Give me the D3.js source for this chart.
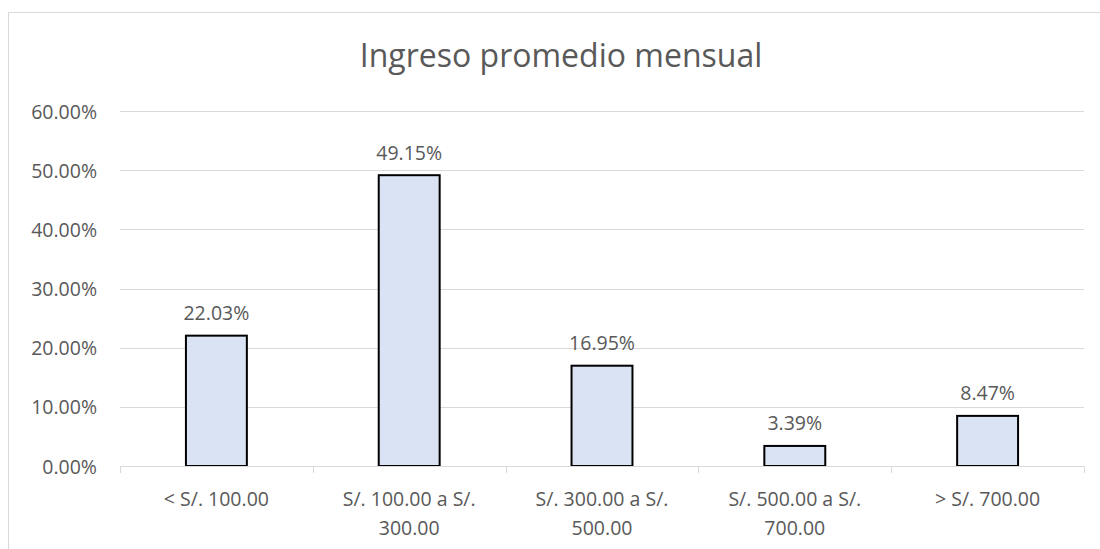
<!DOCTYPE html>
<html>
<head>
<meta charset="utf-8">
<script src="https://cdn.jsdelivr.net/npm/d3@7"></script>
<style>
  body { margin: 0; background: #ffffff; }
  text { font-family: "Open Sans", "Noto Sans", sans-serif; fill: #595959; }
</style>
</head>
<body>
<div id="canvas"></div>
<script>
"use strict"

/* data */
let categories = ["< S/. 100.00", "S/. 100.00 a S/. 300.00", "S/. 300.00 a S/. 500.00", "S/. 500.00 a S/. 700.00", "> S/. 700.00"];
let values = [22.03, 49.15, 16.95, 3.39, 8.47];
let yTicks = [0, 10, 20, 30, 40, 50, 60];
let chartTitle = "Ingreso promedio mensual";

/* drawing sizes */
let svgWidth = 1100;
let svgHeight = 549;
let plot = {left: 120, right: 1084, top: 111, bottom: 466};
let labelSize = "19.5px";

let svg = d3.select("#canvas")
    .append("svg")
    .attr("width", svgWidth)
    .attr("height", svgHeight);

/* outer chart border (runs off the right and bottom edge) */
svg.append("rect")
    .attr("x", 8.5)
    .attr("y", 12.5)
    .attr("width", 1200)
    .attr("height", 600)
    .attr("fill", "white")
    .attr("stroke", "#d9d9d9");

let xScale = d3.scaleBand()
    .domain(categories)
    .range([plot.left, plot.right])
    .paddingInner(0.684)
    .paddingOuter(0.342);

let yScale = d3.scaleLinear()
    .domain([0, 60])
    .range([plot.bottom, plot.top]);

/* gridlines */
svg.selectAll("line.grid")
    .data(yTicks.filter(d => d > 0))
    .join("line")
    .attr("class", "grid")
    .attr("x1", plot.left)
    .attr("x2", plot.right)
    .attr("y1", d => Math.round(yScale(d)) + 0.5)
    .attr("y2", d => Math.round(yScale(d)) + 0.5)
    .attr("stroke", "#d9d9d9")
    .attr("stroke-width", 1);

/* y tick labels */
svg.selectAll("text.ylab")
    .data(yTicks)
    .join("text")
    .attr("class", "ylab")
    .attr("x", 97)
    .attr("y", d => yScale(d))
    .attr("text-anchor", "end")
    .attr("dominant-baseline", "central")
    .attr("font-size", labelSize)
    .text(d => d.toFixed(2) + "%");

/* bars */
svg.selectAll("rect.bar")
    .data(values)
    .join("rect")
    .attr("class", "bar")
    .attr("x", (d, i) => xScale(categories[i]))
    .attr("y", d => yScale(d))
    .attr("width", xScale.bandwidth())
    .attr("height", d => plot.bottom - yScale(d))
    .attr("fill", "#dae3f3")
    .attr("stroke", "black")
    .attr("stroke-width", 2);

/* x axis line and ticks */
let boundaries = d3.range(categories.length + 1).map(i => plot.left + i * xScale.step());
svg.append("line")
    .attr("x1", plot.left)
    .attr("x2", plot.right)
    .attr("y1", plot.bottom + 0.5)
    .attr("y2", plot.bottom + 0.5)
    .attr("stroke", "#d9d9d9");
svg.selectAll("line.tick")
    .data(boundaries)
    .join("line")
    .attr("class", "tick")
    .attr("x1", d => Math.round(d) + 0.5)
    .attr("x2", d => Math.round(d) + 0.5)
    .attr("y1", plot.bottom)
    .attr("y2", plot.bottom + 7)
    .attr("stroke", "#d9d9d9");

/* value labels */
svg.selectAll("text.vlab")
    .data(values)
    .join("text")
    .attr("class", "vlab")
    .attr("x", (d, i) => xScale(categories[i]) + xScale.bandwidth() / 2)
    .attr("y", d => yScale(d) - 23)
    .attr("text-anchor", "middle")
    .attr("dominant-baseline", "central")
    .attr("font-size", labelSize)
    .text(d => d.toFixed(2) + "%");

/* category labels, wrapped like the original */
let catLabels = svg.selectAll("text.xlab")
    .data(categories)
    .join("text")
    .attr("class", "xlab")
    .attr("x", d => xScale(d) + xScale.bandwidth() / 2)
    .attr("y", 498)
    .attr("text-anchor", "middle")
    .attr("dominant-baseline", "central")
    .attr("font-size", labelSize);

catLabels.each(function (d) {
    let el = d3.select(this);
    let x = el.attr("x");
    let words = d.split(" ");
    let line = [];
    let tspan = el.append("tspan").attr("x", x).attr("dy", 0);
    words.forEach(function (w) {
        line.push(w);
        tspan.text(line.join(" "));
        if (tspan.node().getComputedTextLength() > 170 && line.length > 1) {
            line.pop();
            tspan.text(line.join(" "));
            line = [w];
            tspan = el.append("tspan").attr("x", x).attr("dy", 29).text(w);
        }
    });
});

/* title */
svg.append("text")
    .attr("x", 561)
    .attr("y", 67)
    .attr("text-anchor", "middle")
    .attr("font-size", "32px")
    .text(chartTitle);
</script>
</body>
</html>
